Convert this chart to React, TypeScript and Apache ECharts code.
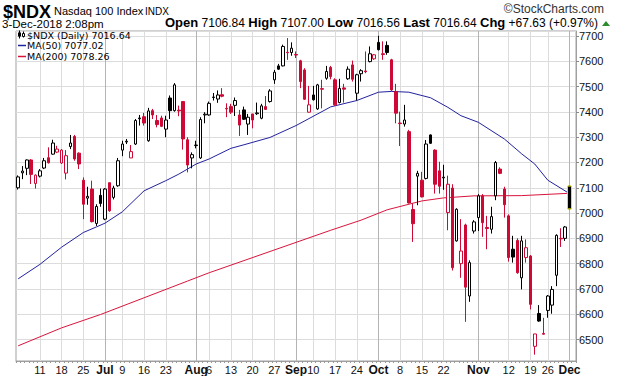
import React, { useEffect, useRef } from 'react';
import * as echarts from 'echarts';

// ---- categories (trading days, Jun 4 – Dec 3 2018) ----
const jun = [4, 5, 6, 7, 8, 11, 12, 13, 14, 15, 18, 19, 20, 21, 22, 25, 26, 27, 28, 29];
const jul = [2, 3, 5, 6, 9, 10, 11, 12, 13, 16, 17, 18, 19, 20, 23, 24, 25, 26, 27, 30, 31];
const aug = [1, 2, 3, 6, 7, 8, 9, 10, 13, 14, 15, 16, 17, 20, 21, 22, 23, 24, 27, 28, 29, 30, 31];
const sep = [4, 5, 6, 7, 10, 11, 12, 13, 14, 17, 18, 19, 20, 21, 24, 25, 26, 27, 28];
const oct = [1, 2, 3, 4, 5, 8, 9, 10, 11, 12, 15, 16, 17, 18, 19, 22, 23, 24, 25, 26, 29, 30, 31];
const nov = [1, 2, 5, 6, 7, 8, 9, 12, 13, 14, 15, 16, 19, 20, 21, 23, 26, 27, 28, 29, 30];
const dec = [3];

// ---- OHLC ----
const opens = [
  7100, 7159, 7177, 7210, 7117, 7146, 7178, 7219, 7233, 7241, 7198, 7158, 7263, 7303, 7237, 7130, 7059, 7095, 6959, 7070,
  6976, 7120, 7062, 7108, 7249, 7281, 7218, 7273, 7373, 7381, 7286, 7405, 7366, 7376, 7332, 7455, 7405, 7407, 7441, 7290,
  7218, 7267, 7218, 7388, 7388, 7457, 7451, 7468, 7414, 7421, 7426, 7388, 7408, 7352, 7392, 7393, 7375, 7421, 7441, 7527,
  7582, 7582, 7636, 7635, 7627, 7602, 7566, 7399, 7467, 7412, 7492, 7533, 7576, 7527, 7437, 7495, 7531, 7586, 7474, 7551,
  7562, 7599, 7610, 7675, 7630, 7663, 7606, 7481, 7356, 7352, 7322, 7014, 7146, 7130, 7137, 7309, 7249, 7167, 7139, 7002,
  7099, 6890, 6800, 6953, 6672, 6929, 6982, 7068, 6943, 6936, 7068, 7174, 7095, 6989, 6857, 6892, 6744, 6824, 6830, 6473,
  6603, 6524, 6615, 6636, 6754, 6900, 6900, 7106.84,
];
const closes = [
  7143, 7166, 7210, 7153, 7150, 7167, 7207, 7199, 7277, 7253, 7249, 7227, 7277, 7214, 7194, 7035, 7066, 6966, 7026, 7038,
  7095, 7009, 7099, 7207, 7273, 7284, 7243, 7366, 7376, 7356, 7404, 7388, 7350, 7343, 7368, 7405, 7507, 7404, 7293, 7190,
  7231, 7269, 7370, 7391, 7434, 7459, 7467, 7462, 7412, 7399, 7445, 7348, 7371, 7379, 7368, 7396, 7424, 7410, 7483, 7557,
  7569, 7659, 7634, 7652, 7625, 7520, 7450, 7428, 7448, 7507, 7490, 7560, 7540, 7428, 7493, 7490, 7569, 7529, 7547, 7563,
  7559, 7630, 7626, 7646, 7627, 7635, 7487, 7395, 7354, 7368, 7040, 6958, 7157, 7064, 7273, 7276, 7114, 7106, 7142, 7114,
  6784, 7015, 6850, 6707, 6804, 6965, 7068, 6962, 6939, 6986, 7200, 7157, 7033, 6824, 6826, 6764, 6890, 6863, 6639, 6522,
  6573, 6521, 6672, 6698, 6912, 6898, 6945, 7016.64,
];
const lows = [
  7093, 7134, 7150, 7115, 7097, 7141, 7174, 7196, 7231, 7237, 7194, 7133, 7253, 7207, 7174, 6976, 7033, 6963, 6949, 7025,
  6972, 7005, 7054, 7104, 7225, 7273, 7218, 7269, 7346, 7346, 7282, 7372, 7339, 7340, 7300, 7372, 7401, 7383, 7251, 7161,
  7177, 7256, 7214, 7355, 7385, 7445, 7436, 7458, 7379, 7392, 7384, 7305, 7368, 7309, 7335, 7388, 7371, 7408, 7437, 7511,
  7566, 7580, 7606, 7622, 7613, 7494, 7447, 7397, 7445, 7408, 7414, 7527, 7529, 7424, 7434, 7437, 7527, 7520, 7445, 7520,
  7553, 7596, 7606, 7643, 7606, 7626, 7481, 7355, 7265, 7342, 7038, 6886, 7031, 7062, 7133, 7273, 7077, 7077, 7092, 6932,
  6773, 6887, 6744, 6570, 6649, 6919, 6929, 6906, 6857, 6919, 7051, 7154, 6982, 6808, 6804, 6760, 6698, 6804, 6619, 6440,
  6570, 6520, 6586, 6602, 6711, 6866, 6890, 7016.56,
];
const highs = [
  7149, 7186, 7212, 7213, 7153, 7174, 7218, 7260, 7290, 7266, 7253, 7249, 7309, 7309, 7240, 7141, 7104, 7128, 7035, 7097,
  7099, 7120, 7108, 7218, 7286, 7293, 7269, 7372, 7388, 7396, 7416, 7412, 7388, 7385, 7385, 7465, 7514, 7425, 7441, 7300,
  7240, 7286, 7379, 7399, 7441, 7475, 7485, 7494, 7434, 7432, 7457, 7408, 7421, 7392, 7392, 7437, 7432, 7463, 7490, 7566,
  7590, 7666, 7692, 7675, 7639, 7606, 7573, 7503, 7503, 7511, 7527, 7582, 7582, 7533, 7531, 7511, 7580, 7603, 7551, 7569,
  7639, 7659, 7629, 7701, 7679, 7679, 7610, 7511, 7401, 7428, 7329, 7038, 7167, 7163, 7289, 7311, 7252, 7203, 7191, 7148,
  7114, 7019, 6976, 6958, 6813, 6972, 7075, 7075, 6989, 7025, 7206, 7181, 7104, 6995, 6910, 6900, 6910, 6896, 6834, 6522,
  6636, 6586, 6676, 6711, 6916, 6940, 6949, 7107,
];

// ---- moving averages, read at selected days ----
const ma50Days = [0, 5, 10, 15, 18, 20, 24, 29, 34, 37, 39, 41, 44, 49, 52, 58, 64, 72, 78, 83, 86, 90, 95, 99, 102, 106, 112, 116, 119, 122, 127];
const ma50Vals = [6740, 6797, 6865, 6923, 6945, 6960, 7005, 7088, 7128, 7154, 7174, 7194, 7214, 7256, 7270, 7299, 7346, 7420, 7445, 7478, 7481, 7478, 7456, 7418, 7385, 7359, 7293, 7234, 7194, 7130, 7077.02];
const ma200Days = [0, 10, 19, 29, 39, 44, 58, 72, 79, 85, 93, 98, 105, 116, 127];
const ma200Vals = [6475, 6546, 6599, 6665, 6731, 6764, 6848, 6932, 6972, 7013, 7048, 7060, 7068, 7069, 7078.26];

// ---- x tick labels ----
const tickDates = ['6/11', '6/18', '6/25', '7/2', '7/9', '7/16', '7/23', '8/1', '8/6', '8/13', '8/20', '8/27', '9/4', '9/10', '9/17', '9/24', '10/1', '10/8', '10/15', '10/22', '11/1', '11/12', '11/19', '11/26', '12/3'];
const tickTexts = ['11', '18', '25', 'Jul', '9', '16', '23', 'Aug', '6', '13', '20', '27', 'Sep', '10', '17', '24', 'Oct', '8', '15', '22', 'Nov', '12', '19', '26', 'Dec'];
const monthTicks = ['Jul', 'Aug', 'Sep', 'Oct', 'Nov', 'Dec'];

const RED = '#cc0a35';
const BLUE = '#22229e';
const MARED = '#d8143c';

export default function App() {
  const ref = useRef<HTMLDivElement>(null);
  useEffect(() => {
    if (!ref.current) return;
    const chart = echarts.init(ref.current, undefined, { renderer: 'svg' });
    const months: [number, number[]][] = [[6, jun], [7, jul], [8, aug], [9, sep], [10, oct], [11, nov], [12, dec]];
    const dates: string[] = [];
    months.forEach(([m, ds]) => ds.forEach((d) => dates.push(m + '/' + d)));
    const cats = dates.concat(['']);
    const labelMap = new Map<number, string>();
    tickDates.forEach((d, k) => labelMap.set(dates.indexOf(d), tickTexts[k]));

    const candleData = opens.map((o, i) => {
      const c = closes[i];
      const prev = i > 0 ? closes[i - 1] : o;
      const col = c >= prev ? '#000' : RED;
      const fill = c > o ? '#fff' : col;
      return {
        value: [o, c, lows[i], highs[i]],
        itemStyle: { color: fill, color0: fill, borderColor: col, borderColor0: col },
      };
    });
    const last = opens.length - 1;
    const highlight = opens.map((o, i) =>
      i === last ? [o, closes[i], lows[i], highs[i]] : ['-', '-', '-', '-']
    );

    const ma50: (number | null)[] = cats.map(() => null);
    ma50Days.forEach((d, k) => (ma50[d] = ma50Vals[k]));
    const ma200: (number | null)[] = cats.map(() => null);
    ma200Days.forEach((d, k) => (ma200[d] = ma200Vals[k]));

    const gridLines = Array.from(labelMap.entries()).map(([idx, txt]) => ({
      xAxis: idx,
      lineStyle: { color: monthTicks.includes(txt) ? '#b4b4b4' : '#dcdcdc', width: 1, type: 'solid' },
    }));

    const FF = '"Liberation Sans", Arial, sans-serif';
    const LF = '"DejaVu Sans", Verdana, sans-serif';
    const Z = 100;

    chart.setOption({
      animation: false,
      backgroundColor: '#fff',
      grid: { left: 16, right: 44, top: 31, bottom: 15, show: true, borderColor: '#a0a0a0', borderWidth: 1 },
      xAxis: {
        type: 'category',
        data: cats,
        boundaryGap: true,
        axisLine: { show: true, lineStyle: { color: '#a0a0a0' } },
        axisTick: { show: true, interval: 0, length: 2, lineStyle: { color: '#999' } },
        splitLine: { show: false },
        axisLabel: {
          interval: (i: number) => labelMap.has(i),
          formatter: (_v: string, i: number) => {
            const t = labelMap.get(i) || '';
            return monthTicks.includes(t) ? '{m|' + t + '}' : t;
          },
          margin: 3,
          fontSize: 11,
          fontFamily: FF,
          color: '#111',
          rich: { m: { fontSize: 12, fontWeight: 'bold', fontFamily: FF, color: '#111' } },
        },
      },
      yAxis: {
        type: 'value',
        position: 'right',
        min: 6415,
        max: 7720,
        minInterval: 100,
        maxInterval: 100,
        splitNumber: 13,
        axisLine: { show: true, lineStyle: { color: '#a0a0a0' } },
        axisTick: { show: true, length: 3, lineStyle: { color: '#888' } },
        axisLabel: {
          showMinLabel: false,
          showMaxLabel: false,
          fontSize: 11,
          fontFamily: FF,
          color: '#111',
          margin: 3,
          formatter: (v: number) => String(v),
        },
        splitLine: { show: true, lineStyle: { color: '#dcdcdc' } },
      },
      series: [
        {
          type: 'line',
          data: ma200,
          connectNulls: true,
          symbol: 'none',
          z: 3,
          lineStyle: { color: MARED, width: 1 },
          markLine: { silent: true, symbol: ['none', 'none'], label: { show: false }, z: 1, data: gridLines },
        },
        {
          type: 'line',
          data: ma50,
          connectNulls: true,
          symbol: 'none',
          z: 3,
          lineStyle: { color: BLUE, width: 1 },
        },
        {
          type: 'candlestick',
          data: candleData,
          barWidth: 3,
          z: 4,
          itemStyle: { borderWidth: 1 },
        },
        {
          type: 'candlestick',
          data: highlight,
          barWidth: 5,
          z: 5,
          itemStyle: { color: '#000', color0: '#000', borderColor: '#e6e600', borderColor0: '#e6e600', borderWidth: 1 },
        },
      ],
      graphic: [
        { type: 'text', z: Z, left: 3, top: 3, style: { text: '$NDX', font: 'bold 18px ' + FF, fill: '#000', lineHeight: 14 } },
        { type: 'text', z: Z, left: 54, top: 5, style: { text: 'Nasdaq 100 Index', font: '11px ' + FF, fill: '#000' } },
        { type: 'text', z: Z, left: 145, top: 6, style: { text: 'INDX', font: '10px ' + FF, fill: '#000' } },
        { type: 'text', z: Z, right: 16, top: 3, style: { text: '©StockCharts.com', font: '12px ' + FF, fill: '#333' } },
        { type: 'text', z: Z, left: 2, top: 18, style: { text: '3-Dec-2018 2:08pm', font: '11.5px ' + FF, fill: '#000', lineHeight: 10 } },
        {
          type: 'text',
          z: Z,
          right: 22,
          top: 16,
          style: {
            text: '{b|Open} 7106.84 {b|High} 7107.00 {b|Low} 7016.56 {b|Last} 7016.64 {b|Chg} +67.63 (+0.97%)',
            font: '12px ' + FF,
            fill: '#000',
            rich: { b: { fontWeight: 'bold', fontSize: 13, fontFamily: FF } },
          },
        },
        { type: 'polygon', z: Z, shape: { points: [[602, 26], [610, 26], [606, 21]] }, style: { fill: '#2e8b2e' } },
        // legend inside plot
        { type: 'line', z: Z, shape: { x1: 19.5, y1: 30.5, x2: 19.5, y2: 38.5 }, style: { stroke: '#000', lineWidth: 1 } },
        { type: 'rect', z: Z, shape: { x: 18, y: 32.5, width: 3, height: 4 }, style: { fill: '#000' } },
        { type: 'line', z: Z, shape: { x1: 23.5, y1: 31.5, x2: 23.5, y2: 37.5 }, style: { stroke: '#000', lineWidth: 1 } },
        { type: 'rect', z: Z, shape: { x: 22.5, y: 33.5, width: 2, height: 3 }, style: { fill: '#fff', stroke: '#000', lineWidth: 1 } },
        { type: 'text', z: Z, left: 27, top: 30, style: { text: '$NDX (Daily) 7016.64', font: '9.5px ' + LF, fill: '#000' } },
        { type: 'line', z: Z, shape: { x1: 18, y1: 45.5, x2: 26, y2: 45.5 }, style: { stroke: BLUE, lineWidth: 1.5 } },
        { type: 'text', z: Z, left: 27, top: 40.5, style: { text: 'MA(50) 7077.02', font: '9.5px ' + LF, fill: '#000' } },
        { type: 'line', z: Z, shape: { x1: 18, y1: 56.5, x2: 26, y2: 56.5 }, style: { stroke: MARED, lineWidth: 1.5 } },
        { type: 'text', z: Z, left: 27, top: 51.5, style: { text: 'MA(200) 7078.26', font: '9.5px ' + LF, fill: '#000' } },
      ],
    });
    return () => chart.dispose();
  }, []);
  return <div ref={ref} style={{ width: 620, height: 376, position: 'absolute', left: 0, top: 0 }} />;
}
